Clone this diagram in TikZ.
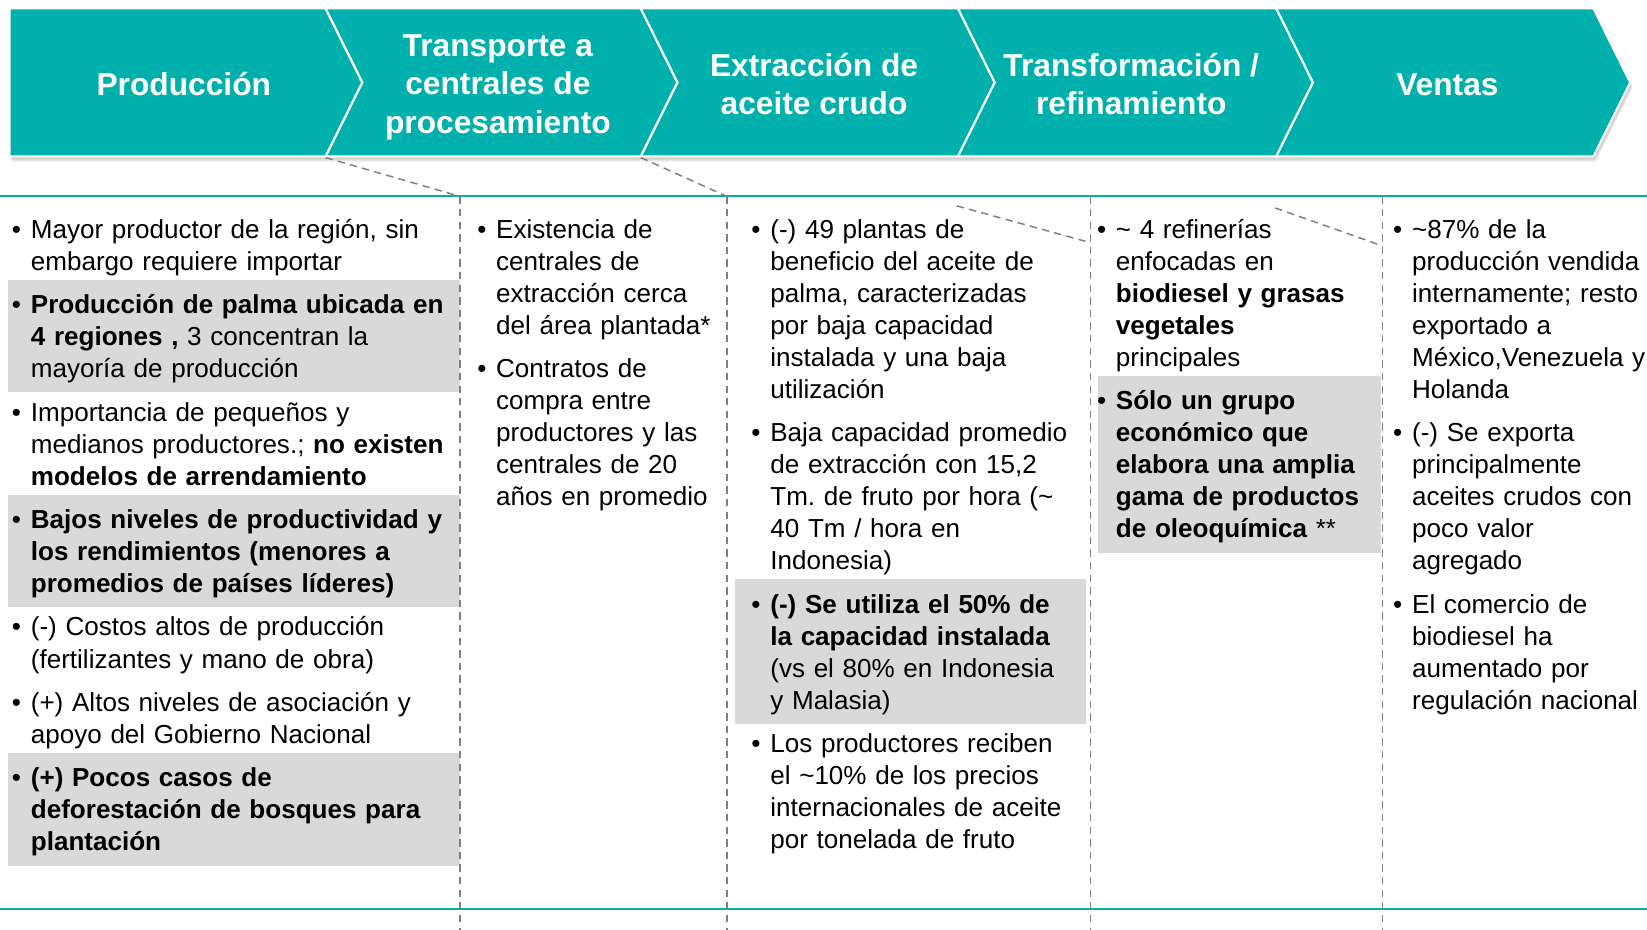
\documentclass[tikz,border=0pt]{standalone}
\usepackage{fontspec}
\setmainfont{Liberation Sans}
\usepackage{xcolor}
\definecolor{colTeal}{HTML}{00B0AC}
\definecolor{colGris}{HTML}{D9D9D9}
\definecolor{colLinea}{HTML}{7F7F7F}
\usetikzlibrary{positioning, calc, backgrounds}
\frenchspacing
\newcommand{\punto}[1]{\leftskip=9pt\noindent\llap{\makebox[9pt][l]{•}}\strut#1\strut\par}
\tikzset{
    chevron/.style={fill=colTeal, draw=white, line width=1pt, line join=miter},
    sombra/.style={fill=black, opacity=0.07},
    etapa/.style={
        text=white, align=center, inner sep=0pt,
        font=\fontsize{15.1pt}{18.25pt}\selectfont\bfseries,
        execute at begin node=\strut, execute at end node=\strut
    },
    texto/.style={inner sep=0pt, text width=#1, font=\fontsize{12.4pt}{15.25pt}\selectfont},
    texto/.default=150pt,
    divisor/.style={colLinea, line width=0.7pt, dash pattern=on 3.5pt off 2.5pt},
    regla/.style={colTeal, line width=1pt},
    resalte/.style={fill=colGris},
}
\begin{document}
\begin{tikzpicture}[x=0.5pt, y=-0.5pt, node distance=5pt]
    \useasboundingbox (0,0) rectangle (1568,885);
    % cadena de valor
    \foreach \s in {1,...,4}
        \fill[sombra, shift={(0.6*\s,1.2*\s)}] (9,8) -- (1517,8) -- (1552,78.5) -- (1517,149) -- (9,149) -- cycle;
    \path[chevron] (9,8) -- (310,8) -- (345,78.5) -- (310,149) -- (9,149) -- cycle;
    \foreach \a/\b in {310/610, 610/912, 912/1215, 1215/1517}
        \path[chevron] (\a,8) -- (\b,8) -- (\b+35,78.5) -- (\b,149) -- (\a,149) -- (\a+35,78.5) -- cycle;
    \node[etapa] (e1) at (175,84) {Producción};
    \node[etapa] (e2) at (474,85.5) {Transporte a\\centrales de\\procesamiento};
    \node[etapa] (e3) at (775,85) {Extracción de\\aceite crudo};
    \node[etapa] (e4) at (1077,85) {Transformación /\\refinamiento};
    \node[etapa] (e5) at (1378,84) {Ventas};

    % reglas y divisores
    \coordinate (ra) at (0,187);   \coordinate (rb) at (1568,187);
    \coordinate (sa) at (0,865);   \coordinate (sb) at (1568,865);
    \draw[regla] (ra) -- (rb);
    \draw[regla] (sa) -- (sb);
    \foreach \x [count=\i] in {438,692,1038,1316} {
        \coordinate (t\i) at (\x,187);
        \coordinate (f\i) at (\x,885);
        \draw[divisor] (t\i) -- (f\i);
    }
    \coordinate (c1) at (310,150);
    \coordinate (c2) at (610,150);
    \coordinate (c3) at (911,196);
    \coordinate (c4) at (1214,198);
    \coordinate (m3) at (1038,231);
    \coordinate (m4) at (1316,234);
    \draw[divisor] (c1) -- (t1);
    \draw[divisor] (c2) -- (t2);
    \draw[divisor] (c3) -- (m3);
    \draw[divisor] (c4) -- (m4);

    % Produccion
    \node[texto=213pt, anchor=north west] (p11) at (11,205)
        {\punto{Mayor productor de la región, sin\\embargo requiere importar}};
    \node[texto=213pt, below=of p11] (p12)
        {\punto{\textbf{Producción de palma ubicada en}\\\textbf{4 regiones ,} 3 concentran la\\mayoría de producción}};
    \node[texto=213pt, below=of p12] (p13)
        {\punto{Importancia de pequeños y\\medianos productores.; \textbf{no existen}\\\textbf{modelos de arrendamiento}}};
    \node[texto=213pt, below=of p13] (p14)
        {\punto{\textbf{Bajos niveles de productividad y}\\\textbf{los rendimientos (menores a}\\\textbf{promedios de países líderes)}}};
    \node[texto=213pt, below=of p14] (p15)
        {\punto{(-) Costos altos de producción\\(fertilizantes y mano de obra)}};
    \node[texto=213pt, below=of p15] (p16)
        {\punto{(+) Altos niveles de asociación y\\apoyo del Gobierno Nacional}};
    \node[texto=213pt, below=of p16] (p17)
        {\punto{\textbf{(+) Pocos casos de}\\\textbf{deforestación de bosques para}\\\textbf{plantación}}};

    % Transporte
    \node[texto=140pt, anchor=north west] (p21) at (454,205)
        {\punto{Existencia de\\centrales de\\extracción cerca\\del área plantada*}};
    \node[texto=140pt, below=of p21] (p22)
        {\punto{Contratos de\\compra entre\\productores y las\\centrales de 20\\años en promedio}};

    % Extraccion
    \node[texto=159pt, anchor=north west] (p31) at (715,205)
        {\punto{(-) 49 plantas de\\beneficio del aceite de\\palma, caracterizadas\\por baja capacidad\\instalada y una baja\\utilización}};
    \node[texto=159pt, below=of p31] (p32)
        {\punto{Baja capacidad promedio\\de extracción con 15,2\\Tm. de fruto por hora (\textasciitilde\\40 Tm / hora en\\Indonesia)}};
    \node[texto=159pt, below=of p32] (p33)
        {\punto{\textbf{(-) Se utiliza el 50\% de}\\\textbf{la capacidad instalada}\\(vs el 80\% en Indonesia\\y Malasia)}};
    \node[texto=159pt, below=of p33] (p34)
        {\punto{Los productores reciben\\el \textasciitilde10\% de los precios\\internacionales de aceite\\por tonelada de fruto}};

    % Transformacion
    \node[texto=135pt, anchor=north west] (p41) at (1044,205)
        {\punto{\textasciitilde{} 4 refinerías\\enfocadas en\\\textbf{biodiesel y grasas}\\\textbf{vegetales}\\principales}};
    \node[texto=135pt, below=of p41] (p42)
        {\punto{\textbf{Sólo un grupo}\\\textbf{económico que}\\\textbf{elabora una amplia}\\\textbf{gama de productos}\\\textbf{de oleoquímica} **}};

    % Ventas
    \node[texto=160pt, anchor=north west] (p51) at (1326,205)
        {\punto{\textasciitilde87\% de la\\producción vendida\\internamente; resto\\exportado a\\México,Venezuela y\\Holanda}};
    \node[texto=160pt, below=of p51] (p52)
        {\punto{(-) Se exporta\\principalmente\\aceites crudos con\\poco valor\\agregado}};
    \node[texto=160pt, below=of p52] (p53)
        {\punto{El comercio de\\biodiesel ha\\aumentado por\\regulación nacional}};

    \begin{scope}[on background layer]
        \fill[resalte] ($(p12.north west)+(-3,-10.6)$) rectangle ($(p12.south east)+(0,4.5)$);
        \fill[resalte] ($(p14.north west)+(-3,-10.6)$) rectangle ($(p14.south east)+(0,4.5)$);
        \fill[resalte] ($(p17.north west)+(-3,-10.6)$) rectangle ($(p17.south east)+(0,4.5)$);
        \fill[resalte] ($(p33.north west)+(-15,-10.6)$) rectangle ($(p33.south east)+(0,4.5)$);
        \fill[resalte] ($(p42.north west)+(1,-10.6)$) rectangle ($(p42.south east)+(0,4.5)$);
    \end{scope}
\end{tikzpicture}
\end{document}
